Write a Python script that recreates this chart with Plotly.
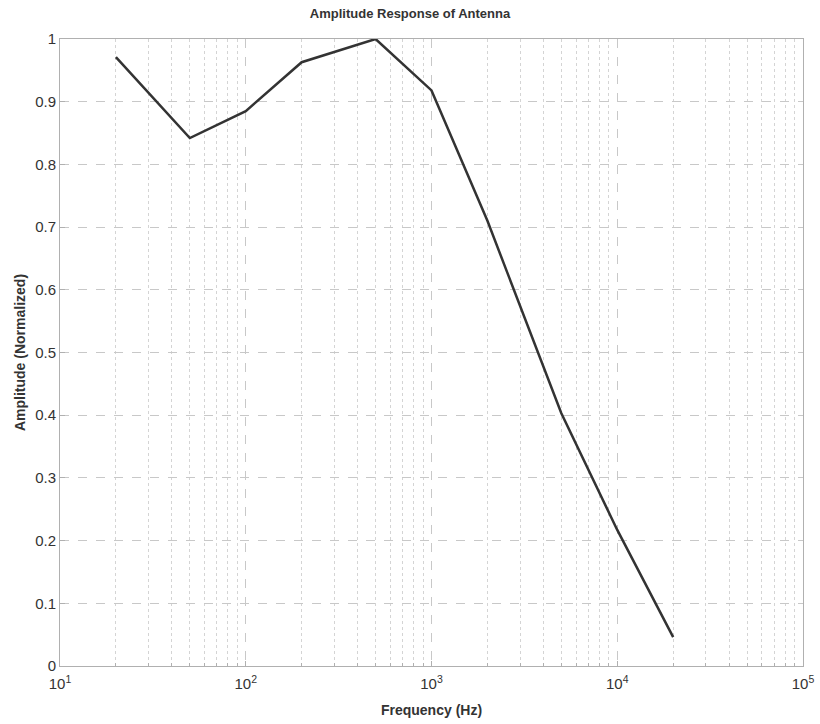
import plotly.graph_objects as go

# Measured antenna response
freq_hz = [20, 50, 100, 200, 500, 1000, 2000, 5000, 10000, 20000]
amplitude = [0.971, 0.842, 0.885, 0.963, 1.0, 0.918, 0.71, 0.403, 0.217, 0.046]

x_tick_vals = [10, 100, 1000, 10000, 100000]
x_tick_text = ["10<sup>1</sup>", "10<sup>2</sup>", "10<sup>3</sup>", "10<sup>4</sup>", "10<sup>5</sup>"]
y_tick_vals = [0, 0.1, 0.2, 0.3, 0.4, 0.5, 0.6, 0.7, 0.8, 0.9, 1]
y_tick_text = ["0", "0.1", "0.2", "0.3", "0.4", "0.5", "0.6", "0.7", "0.8", "0.9", "1"]

minor_x = [m * 10 ** k for k in range(1, 5) for m in range(2, 10)]

FONT = "Liberation Sans, Arial, Helvetica, sans-serif"
GRID = "#c8c8c8"
AXIS = "#b0b0b0"

fig = go.Figure()
fig.add_trace(go.Scatter(
    x=freq_hz, y=amplitude, mode="lines",
    line=dict(color="#333333", width=2.5),
    showlegend=False,
))

fig.update_layout(
    width=820, height=724,
    paper_bgcolor="white", plot_bgcolor="white",
    margin=dict(l=60, r=17, t=39, b=58, autoexpand=False),
    font=dict(family=FONT, size=14, color="#333333"),
    title=dict(text="<b>Amplitude Response of Antenna</b>", x=0.5, xanchor="center",
               y=0.988, yanchor="top", font=dict(size=13, color="#333333")),
)

fig.update_xaxes(
    type="log", range=[1, 5], automargin=False,
    tickvals=x_tick_vals, ticktext=x_tick_text,
    showgrid=True, gridcolor=GRID, griddash="dash", gridwidth=1,
    showline=True, linecolor=AXIS, linewidth=1, mirror=True,
    ticks="inside", ticklen=5, tickcolor=AXIS, ticklabelstandoff=4,
    minor=dict(tickvals=minor_x, showgrid=True, gridcolor="#d4d4d4",
               griddash="dot", gridwidth=1, ticks="inside", ticklen=3, tickcolor=AXIS),
    title=dict(text="<b>Frequency (Hz)</b>", font=dict(size=14, color="#333333"), standoff=14),
    tickfont=dict(size=15, color="#333333"),
    zeroline=False,
)
fig.update_yaxes(
    range=[0, 1], automargin=False,
    tickvals=y_tick_vals, ticktext=y_tick_text,
    showgrid=True, gridcolor=GRID, griddash="dash", gridwidth=1,
    showline=True, linecolor=AXIS, linewidth=1, mirror=True,
    ticks="inside", ticklen=5, tickcolor=AXIS,
    title=dict(text="<b>Amplitude (Normalized)</b>", font=dict(size=14, color="#333333"), standoff=6),
    tickfont=dict(size=15, color="#333333"),
    zeroline=False,
)

fig.write_html("out.html")
